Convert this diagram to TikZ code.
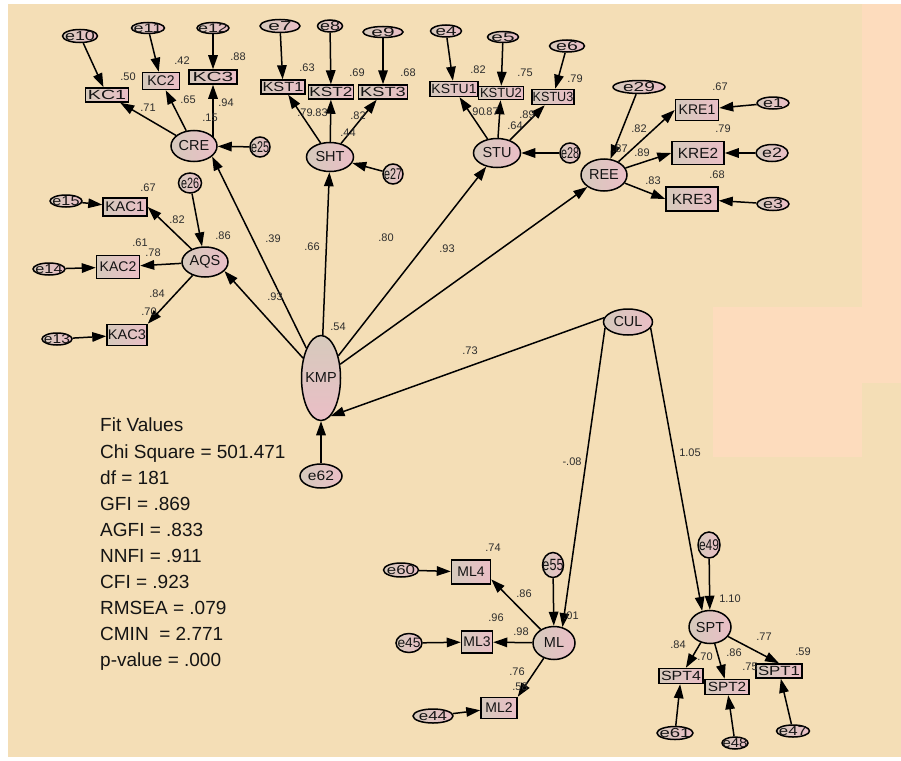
\documentclass[tikz,border=0pt]{standalone}
\usepackage{fontspec}
\setmainfont{Liberation Sans}
\usepackage{graphicx}
\usetikzlibrary{shapes.geometric,arrows.meta}
\pgfdeclarelayer{bg}
\pgfdeclarelayer{conn}
\pgfsetlayers{bg,conn,main}
\definecolor{bgtan}{RGB}{244,222,182}
\definecolor{bgpeach}{RGB}{253,220,189}
\definecolor{nodeL}{RGB}{214,202,188}
\definecolor{nodeR}{RGB}{234,190,198}
\definecolor{labc}{RGB}{45,45,45}
\definecolor{txtc}{RGB}{20,20,20}
\newcommand{\sx}[3]{\scalebox{#1}[#2]{#3}}
\begin{document}
\begin{tikzpicture}[x=1pt,y=-1pt,
  sz/.style 2 args={minimum width=#1pt, minimum height=#2pt},
  shp/.style={draw=black, line width=1.5pt, left color=nodeL, right color=nodeR, inner sep=0pt},
  lat/.style={shp, ellipse, label={[txtlab, font=\fontsize{14.5}{14.5}\selectfont]center:{#1}}},
  ind/.style={shp, rectangle, label={[txtlab, font=\fontsize{14}{14}\selectfont]center:{#1}}},
  err/.style={shp, ellipse, label={[txtlab, font=\fontsize{13}{13}\selectfont]center:{#1}}},
  txtlab/.style={inner sep=0pt, text=txtc},
  lab/.style={inner sep=0pt, font=\fontsize{11}{11}\selectfont, text=labc},
  arr/.style={line width=1.5pt, draw=black, -{Triangle[length=14pt,width=9.5pt]}},
]
\useasboundingbox (0,0) rectangle (901,760);
\begin{pgfonlayer}{bg}
\fill[white] (0,0) rectangle (901,760);
\fill[bgtan] (8,4) rectangle (901,757);
\fill[bgpeach] (862,4) rectangle (901,383);
\fill[bgpeach] (713,307) rectangle (862,457);
\end{pgfonlayer}

% ---------- CRE cluster
\node[lat=CRE, sz={46}{31}] (CRE) at (194,146) {};
\node[ind={\sx{1.4}{0.95}{KC1}}, sz={43}{14}] (KC1) at (107,95) {};
\node[ind={KC2}, sz={37}{17}] (KC2) at (161,81) {};
\node[ind={\sx{1.5}{0.95}{KC3}}, sz={48}{14}] (KC3) at (213,77) {};
\node[err={\sx{1.38}{1}{e10}}, sz={35}{13}] (e10) at (80,36) {};
\node[err={\sx{1.38}{0.95}{e11}}, sz={33}{11}] (e11) at (148,28) {};
\node[err={\sx{1.38}{0.95}{e12}}, sz={32}{11}] (e12) at (213,28) {};
\node[err={\sx{0.83}{1.2}{e25}}, sz={20}{20}] (e25) at (260,147) {};

% ---------- SHT cluster
\node[lat=SHT, sz={47}{29}] (SHT) at (330,157) {};
\node[ind={\sx{1.17}{0.95}{KST1}}, sz={44}{14}] (KST1) at (283,87) {};
\node[ind={\sx{1.23}{0.95}{KST2}}, sz={45}{14}] (KST2) at (331,92) {};
\node[ind={\sx{1.3}{0.95}{KST3}}, sz={49}{14}] (KST3) at (383,92) {};
\node[err={\sx{1.6}{1}{e7}}, sz={40}{13}] (e7) at (280,26) {};
\node[err={\sx{1.38}{1}{e8}}, sz={25}{12}] (e8) at (330,26) {};
\node[err={\sx{1.6}{0.95}{e9}}, sz={40}{11}] (e9) at (383,32) {};
\node[err={\sx{0.83}{1.2}{e27}}, sz={20}{20}] (e27) at (393,174) {};

% ---------- STU cluster
\node[lat=STU, sz={47}{29}] (STU) at (497,153) {};
\node[ind={\sx{1.0}{0.95}{KSTU1}}, sz={48}{15}] (KSTU1) at (454,89) {};
\node[ind={\sx{0.93}{0.95}{KSTU2}}, sz={45}{13}] (KSTU2) at (501,93) {};
\node[ind={\sx{0.9}{0.95}{KSTU3}}, sz={42}{15}] (KSTU3) at (553,97) {};
\node[err={\sx{1.45}{1}{e4}}, sz={31}{12}] (e4) at (446,31) {};
\node[err={\sx{1.6}{0.95}{e5}}, sz={31}{11}] (e5) at (503,37) {};
\node[err={\sx{1.5}{1}{e6}}, sz={35}{12}] (e6) at (567,46) {};
\node[err={\sx{0.83}{1.2}{e28}}, sz={20}{20}] (e28) at (570,153) {};

% ---------- REE cluster
\node[lat=REE, sz={46}{32}] (REE) at (604,175) {};
\node[ind={KRE1}, sz={43}{21}] (KRE1) at (697,110) {};
\node[ind={\sx{1.1}{1.05}{KRE2}}, sz={52}{23}] (KRE2) at (698,153) {};
\node[ind={\sx{1.1}{1.05}{KRE3}}, sz={52}{24}] (KRE3) at (692,199) {};
\node[err={\sx{1.38}{1}{e1}}, sz={32}{12}] (e1) at (773,103) {};
\node[err={\sx{1.38}{1.05}{e2}}, sz={32}{17}] (e2) at (772,153) {};
\node[err={\sx{1.38}{1}{e3}}, sz={32}{13}] (e3) at (773,204) {};
\node[err={\sx{1.47}{1}{e29}}, sz={52}{13}] (e29) at (639,87) {};

% ---------- AQS cluster
\node[lat=AQS, sz={46}{30}] (AQS) at (205,262) {};
\node[ind={\sx{1.07}{1}{KAC1}}, sz={44}{18}] (KAC1) at (125,207) {};
\node[ind={KAC2}, sz={43}{23}] (KAC2) at (118,267) {};
\node[ind={\sx{1.04}{1}{KAC3}}, sz={40}{21}] (KAC3) at (127,335) {};
\node[err={\sx{1.25}{1}{e15}}, sz={32}{12}] (e15) at (66,201) {};
\node[err={\sx{1.25}{1}{e14}}, sz={32}{12}] (e14) at (49,269) {};
\node[err={\sx{1.2}{1}{e13}}, sz={30}{12}] (e13) at (57,339) {};
\node[err={\sx{0.83}{1.15}{e26}}, sz={23}{20}] (e26) at (190,183) {};

% ---------- KMP, CUL
\node[shp, ellipse, sz={39}{85}, top color=nodeL, bottom color=nodeR, label={[txtlab, font=\fontsize{14.5}{14.5}\selectfont]center:KMP}] (KMP) at (321,378) {};
\node[err={\sx{1.2}{1.05}{e62}}, sz={42}{24}] (e62) at (321,476) {};
\node[lat=CUL, sz={49}{26}] (CUL) at (628,322) {};

% ---------- ML cluster
\node[lat=ML, sz={42}{33}] (ML) at (554,643) {};
\node[ind={ML4}, sz={39}{24}] (ML4) at (471,572) {};
\node[ind={ML3}, sz={31}{22}] (ML3) at (477,642) {};
\node[ind={ML2}, sz={36}{21}] (ML2) at (499,708) {};
\node[err={\sx{1.3}{1}{e60}}, sz={35}{14}] (e60) at (401,570) {};
\node[err={\sx{1.06}{1.05}{e45}}, sz={26}{19}] (e45) at (409,643) {};
\node[err={\sx{1.3}{1}{e44}}, sz={40}{14}] (e44) at (433,716) {};
\node[err={\sx{0.97}{1.25}{e55}}, sz={21}{25}] (e55) at (553,565) {};

% ---------- SPT cluster
\node[lat=SPT, sz={42}{33}] (SPT) at (710,627) {};
\node[ind={\sx{1.14}{0.95}{SPT4}}, sz={44}{15}] (SPT4) at (681,676) {};
\node[ind={\sx{1.1}{0.95}{SPT2}}, sz={44}{15}] (SPT2) at (727,687) {};
\node[ind={\sx{1.2}{0.95}{SPT1}}, sz={46}{14}] (SPT1) at (779,671) {};
\node[err={\sx{1.43}{1}{e61}}, sz={36}{13}] (e61) at (675,733) {};
\node[err={\sx{1.15}{1}{e48}}, sz={26}{12}] (e48) at (735,743) {};
\node[err={\sx{1.3}{1}{e47}}, sz={33}{12}] (e47) at (793,731) {};
\node[err={\sx{0.92}{1.2}{e49}}, sz={22}{26}] (e49) at (709,545) {};

% ---------- connectors
\begin{pgfonlayer}{conn}
\draw[arr] (CRE) -- (KC1);
\draw[arr] (CRE) -- (KC2);
\draw[arr] (KC3.south |- CRE.center) -- (KC3.south);
\draw[arr] (e10) -- (KC1);
\draw[arr] (e11) -- (KC2);
\draw[arr] (e12) -- (KC3);
\draw[arr] (e25) -- (CRE);

\draw[arr] (SHT) -- (KST1);
\draw[arr] (SHT) -- (KST2);
\draw[arr] (SHT) -- (KST3);
\draw[arr] (e7) -- (KST1);
\draw[arr] (e8) -- (KST2);
\draw[arr] (e9) -- (KST3);
\draw[arr] (e27) -- (SHT);

\draw[arr] (STU) -- (KSTU1);
\draw[arr] (STU) -- (KSTU2);
\draw[arr] (STU) -- (KSTU3);
\draw[arr] (e4) -- (KSTU1);
\draw[arr] (e5) -- (KSTU2);
\draw[arr] (e6) -- (KSTU3);
\draw[arr] (e28) -- (STU);

\draw[arr] (REE) -- (KRE1.west);
\draw[arr] (REE) -- (KRE2.west);
\draw[arr] (REE) -- (KRE3.west);
\draw[arr] (e1) -- (KRE1);
\draw[arr] (e2) -- (KRE2);
\draw[arr] (e3) -- (KRE3);
\draw[arr] (e29) -- (REE);

\draw[arr] (AQS) -- (KAC1.east);
\draw[arr] (AQS) -- (KAC2);
\draw[arr] (AQS) -- (KAC3.north east);
\draw[arr] (e15) -- (KAC1);
\draw[arr] (e14) -- (KAC2);
\draw[arr] (e13) -- (KAC3);
\draw[arr] (e26) -- (AQS);

\draw[arr] (KMP) -- (CRE.-30);
\draw[arr] (KMP) -- (AQS.-25);
\draw[arr] (KMP) -- (SHT);
\draw[arr] (KMP) -- (STU);
\draw[arr] (KMP) -- (REE);
\draw[arr] (e62) -- (KMP);

\draw[arr] (CUL.170) -- (KMP.-76);
\draw[arr] (CUL.194) -- (ML.62);
\draw[arr] (CUL.-15) -- (SPT.116);

\draw[arr] (ML) -- (ML4.-20);
\draw[arr] (ML) -- (ML3);
\draw[arr] (ML) -- (ML2.north east);
\draw[arr] (e60) -- (ML4);
\draw[arr] (e45) -- (ML3);
\draw[arr] (e44) -- (ML2);
\draw[arr] (e55) -- (ML);

\draw[arr] (SPT) -- (SPT4);
\draw[arr] (SPT) -- (SPT2);
\draw[arr] (SPT) -- (SPT1.north);
\draw[arr] (e61) -- (SPT4);
\draw[arr] (e48) -- (SPT2);
\draw[arr] (e47) -- (SPT1);
\draw[arr] (e49) -- (SPT);
\end{pgfonlayer}

% ---------- coefficient labels
\node[lab] (l1) at (128,77) {.50};
\node[lab] (l2) at (182,61) {.42};
\node[lab] (l3) at (238,57) {.88};
\node[lab] (l4) at (148,108) {.71};
\node[lab] (l5) at (188,100) {.65};
\node[lab] (l6) at (226,103) {.94};
\node[lab] (l7) at (210,118) {.15};

\node[lab] (l8) at (307,68) {.63};
\node[lab] (l9) at (357,73) {.69};
\node[lab] (l10) at (408,73) {.68};
\node[lab] (l11) at (305,113) {.79};
\node[lab] (l12) at (320,113) {.83};
\node[lab] (l13) at (358,116) {.82};
\node[lab] (l14) at (348,133) {.44};

\node[lab] (l15) at (478,70) {.82};
\node[lab] (l16) at (525,73) {.75};
\node[lab] (l17) at (575,79) {.79};
\node[lab] (l18) at (477,112) {.90};
\node[lab] (l19) at (491,112) {.87};
\node[lab] (l20) at (515,126) {.64};
\node[lab] (l21) at (527,115) {.89};

\node[lab] (l22) at (720,87) {.67};
\node[lab] (l23) at (639,129) {.82};
\node[lab] (l24) at (723,129) {.79};
\node[lab] (l25) at (620,149) {.87};
\node[lab] (l26) at (642,153) {.89};
\node[lab] (l27) at (717,175) {.68};
\node[lab] (l28) at (653,181) {.83};

\node[lab] (l29) at (148,188) {.67};
\node[lab] (l30) at (177,220) {.82};
\node[lab] (l31) at (223,236) {.86};
\node[lab] (l32) at (140,243) {.61};
\node[lab] (l33) at (153,253) {.78};
\node[lab] (l34) at (157,294) {.84};
\node[lab] (l35) at (149,312) {.70};

\node[lab] (l36) at (273,239) {.39};
\node[lab] (l37) at (312,247) {.66};
\node[lab] (l38) at (275,297) {.93};
\node[lab] (l39) at (386,238) {.80};
\node[lab] (l40) at (447,249) {.93};
\node[lab] (l41) at (338,327) {.54};

\node[lab] (l42) at (470,351) {.73};
\node[lab] (l43) at (572,462) {-.08};
\node[lab] (l44) at (690,453) {1.05};

\node[lab] (l45) at (493,548) {.74};
\node[lab] (l46) at (524,594) {.86};
\node[lab] (l47) at (496,618) {.96};
\node[lab] (l48) at (521,632) {.98};
\node[lab] (l49) at (571,616) {.01};
\node[lab] (l50) at (517,672) {.76};
\node[lab] (l51) at (520,687) {.58};

\node[lab] (l52) at (730,599) {1.10};
\node[lab] (l53) at (678,645) {.84};
\node[lab] (l54) at (705,657) {.70};
\node[lab] (l55) at (734,653) {.86};
\node[lab] (l56) at (764,637) {.77};
\node[lab] (l57) at (803,652) {.59};
\node[lab] (l58) at (750,667) {.75};

% ---------- fit values
\node[anchor=north west, align=left, inner sep=0pt, font=\fontsize{19}{26.1}\selectfont, text=txtc] (fit) at (100,418) {Fit Values\\Chi Square = 501.471\\df = 181\\GFI = .869\\AGFI = .833\\NNFI = .911\\CFI = .923\\RMSEA = .079\\CMIN~ = 2.771\\p-value = .000};
\end{tikzpicture}
\end{document}
